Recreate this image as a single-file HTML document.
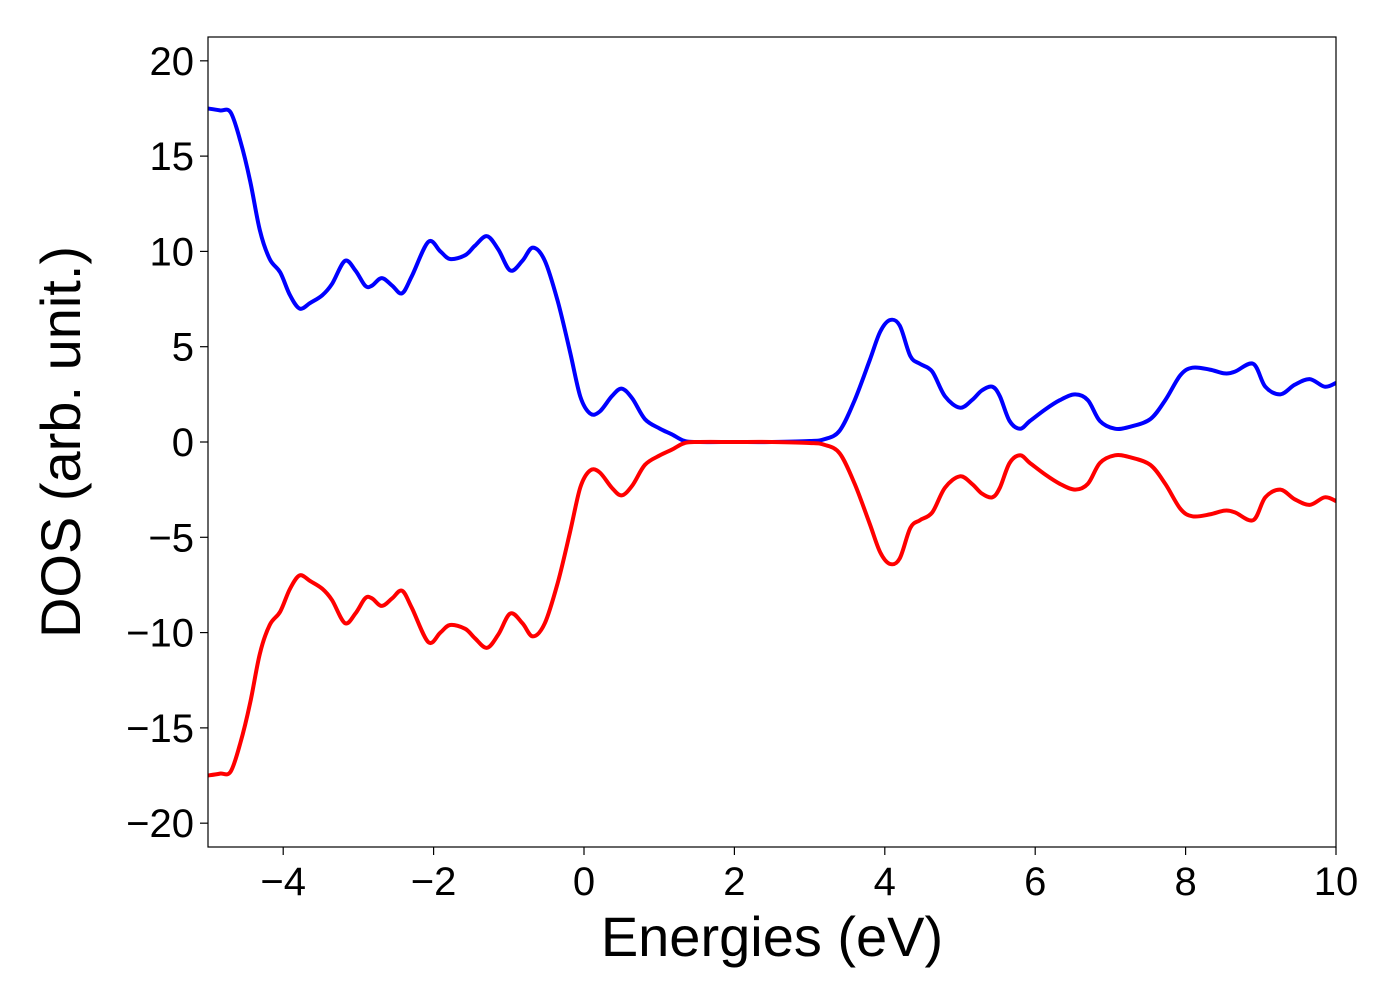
<!DOCTYPE html>
<html><head><meta charset="utf-8"><style>
html,body{margin:0;padding:0;background:#fff;}
svg{display:block;font-family:"Liberation Sans","DejaVu Sans",sans-serif;}
</style></head><body>
<svg id="chart" width="1400" height="1000" viewBox="0 0 1400 1000" xmlns="http://www.w3.org/2000/svg">
<rect x="0" y="0" width="1400" height="1000" fill="#fff"/>
<g id="ticks"></g>
<g id="series"></g>
<rect x="208" y="37" width="1128" height="810" fill="none" stroke="#000" stroke-width="1.2"/>
<text x="772" y="956" font-size="56" text-anchor="middle">Energies (eV)</text>
<text transform="translate(80,442) rotate(-90)" font-size="56" text-anchor="middle">DOS (arb. unit.)</text>
</svg>
<script>
const energies = [-5,-4.84,-4.7,-4.57,-4.44,-4.31,-4.18,-4.04,-3.91,-3.78,-3.64,-3.48,-3.35,-3.18,-3.04,-2.91,-2.82,-2.69,-2.55,-2.42,-2.29,-2.07,-1.91,-1.78,-1.58,-1.45,-1.29,-1.14,-0.98,-0.82,-0.68,-0.52,-0.35,-0.19,-0.05,0.08,0.21,0.37,0.5,0.64,0.81,1.01,1.17,1.34,1.54,2.0,2.5,3.0,3.2,3.4,3.6,3.8,3.94,4.07,4.2,4.34,4.47,4.63,4.8,5.0,5.16,5.29,5.43,5.53,5.66,5.8,5.93,6.13,6.33,6.53,6.7,6.86,7.06,7.26,7.53,7.73,7.93,8.09,8.32,8.52,8.66,8.9,9.06,9.26,9.45,9.65,9.85,10];
const dosUp = [17.5,17.4,17.3,15.8,13.7,11.1,9.6,8.9,7.7,7.0,7.3,7.7,8.3,9.5,9.0,8.2,8.2,8.6,8.2,7.8,8.7,10.5,10.0,9.6,9.8,10.3,10.8,10.1,9.0,9.5,10.2,9.5,7.4,4.8,2.4,1.5,1.6,2.4,2.8,2.3,1.2,0.7,0.4,0.05,0,0,0,0.05,0.15,0.6,2.2,4.3,5.8,6.4,6.1,4.5,4.1,3.7,2.4,1.8,2.2,2.7,2.9,2.4,1.1,0.7,1.1,1.7,2.2,2.5,2.2,1.1,0.7,0.8,1.2,2.2,3.5,3.9,3.8,3.6,3.7,4.1,2.9,2.5,3.0,3.3,2.9,3.1];
const dosDown = [-17.5,-17.4,-17.3,-15.8,-13.7,-11.1,-9.6,-8.9,-7.7,-7.0,-7.3,-7.7,-8.3,-9.5,-9.0,-8.2,-8.2,-8.6,-8.2,-7.8,-8.7,-10.5,-10.0,-9.6,-9.8,-10.3,-10.8,-10.1,-9.0,-9.5,-10.2,-9.5,-7.4,-4.8,-2.4,-1.5,-1.6,-2.4,-2.8,-2.3,-1.2,-0.7,-0.4,-0.05,0,0,0,-0.05,-0.15,-0.6,-2.2,-4.3,-5.8,-6.4,-6.1,-4.5,-4.1,-3.7,-2.4,-1.8,-2.2,-2.7,-2.9,-2.4,-1.1,-0.7,-1.1,-1.7,-2.2,-2.5,-2.2,-1.1,-0.7,-0.8,-1.2,-2.2,-3.5,-3.9,-3.8,-3.6,-3.7,-4.1,-2.9,-2.5,-3.0,-3.3,-2.9,-3.1];
const xTicks = [-4,-2,0,2,4,6,8,10];
const yTicks = [-20,-15,-10,-5,0,5,10,15,20];

const NS = "http://www.w3.org/2000/svg";
const X0=208, X1=1336, Y0=37, Y1=847;
const xMin=-5, xMax=10, yMin=-21.25, yMax=21.25;
function sx(v){return X0+(v-xMin)/(xMax-xMin)*(X1-X0);}
function sy(v){return Y1-(v-yMin)/(yMax-yMin)*(Y1-Y0);}
function fmt(v){return v<0?"\u2212"+Math.abs(v):String(v);}

const tg=document.getElementById("ticks");
xTicks.forEach(t=>{
  const l=document.createElementNS(NS,"line");
  
  
  l.setAttribute("x1",sx(t));l.setAttribute("x2",sx(t));l.setAttribute("y1",Y1);l.setAttribute("y2",Y1+8);
  l.setAttribute("stroke","#000");l.setAttribute("stroke-width","1.2");tg.appendChild(l);
  const tx=document.createElementNS(NS,"text");
  
  
  tx.setAttribute("x",sx(t));tx.setAttribute("y",Y1+48);tx.setAttribute("font-size","40");tx.setAttribute("text-anchor","middle");
  tx.textContent=fmt(t);tg.appendChild(tx);
});
yTicks.forEach(t=>{
  const l=document.createElementNS(NS,"line");
  
  
  l.setAttribute("x1",X0-8);l.setAttribute("x2",X0);l.setAttribute("y1",sy(t));l.setAttribute("y2",sy(t));
  l.setAttribute("stroke","#000");l.setAttribute("stroke-width","1.2");tg.appendChild(l);
  const tx=document.createElementNS(NS,"text");
  
  
  tx.setAttribute("x",X0-14);tx.setAttribute("y",sy(t)+14);tx.setAttribute("font-size","40");tx.setAttribute("text-anchor","end");
  tx.textContent=fmt(t);tg.appendChild(tx);
});

function smoothPath(xs,ys){
  const p=xs.map((x,i)=>[sx(x),sy(ys[i])]);
  let d="M"+p[0][0].toFixed(1)+","+p[0][1].toFixed(1);
  for(let i=0;i<p.length-1;i++){
    const p0=p[i-1]||p[i],p1=p[i],p2=p[i+1],p3=p[i+2]||p2;
    const c1=[p1[0]+(p2[0]-p0[0])/6,p1[1]+(p2[1]-p0[1])/6];
    const c2=[p2[0]-(p3[0]-p1[0])/6,p2[1]-(p3[1]-p1[1])/6];
    d+="C"+c1[0].toFixed(1)+","+c1[1].toFixed(1)+" "+c2[0].toFixed(1)+","+c2[1].toFixed(1)+" "+p2[0].toFixed(1)+","+p2[1].toFixed(1);
  }
  return d;
}
const sg=document.getElementById("series");
const cp=document.createElementNS(NS,"clipPath");cp.setAttribute("id","clip");
const cr=document.createElementNS(NS,"rect");cr.setAttribute("x",X0);cr.setAttribute("y",Y0);cr.setAttribute("width",X1-X0);cr.setAttribute("height",Y1-Y0);
cp.appendChild(cr);sg.appendChild(cp);
[[dosUp,"#0000ff","spin-up-line"],[dosDown,"#ff0000","spin-down-line"]].forEach(([ys,c,n])=>{
  const pa=document.createElementNS(NS,"path");
  
  
  pa.setAttribute("d",smoothPath(energies,ys));pa.setAttribute("fill","none");pa.setAttribute("stroke",c);
  pa.setAttribute("stroke-width","4");pa.setAttribute("stroke-linejoin","round");pa.setAttribute("clip-path","url(#clip)");
  sg.appendChild(pa);
});
</script>
</body></html>
